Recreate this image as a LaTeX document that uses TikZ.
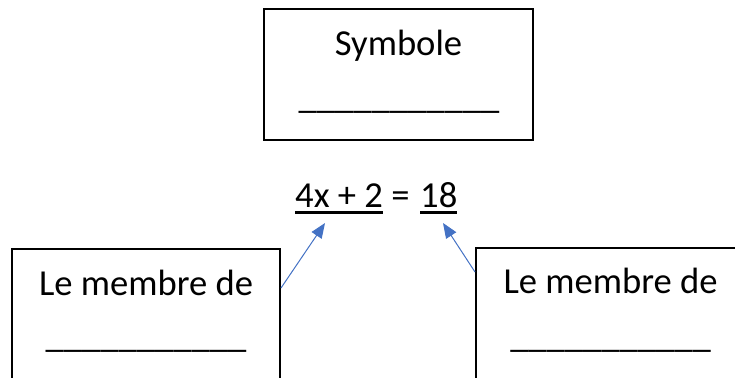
\documentclass[tikz,border=0pt]{standalone}
\usepackage{fontspec}
\setmainfont{Carlito}
\usetikzlibrary{arrows.meta,calc}
\newcommand\myul[1]{\setbox0\hbox{#1}\rlap{\rule[-7.3pt]{\wd0}{3pt}}\box0}
\begin{document}
\begin{tikzpicture}[x=1pt,y=-1pt,
  box/.style={draw=black,line width=2pt,fill=none,inner sep=0pt},
  txt/.style={inner sep=0pt,anchor=base,font=\fontsize{36.6}{44}\selectfont},
  arr/.style={draw={rgb,255:red,68;green,114;blue,196},line width=1pt,
    -{Triangle[length=15pt,width=12pt]}}]
\useasboundingbox (0,0) rectangle (735,377);
\clip (0,0) rectangle (735,377);
% top box
\node[box,minimum width=269pt,minimum height=131pt] (sym) at (398.5,74.5) {};
\node[txt] (symt) at (398.5,56) {Symbole};
\node[txt] (symu) at (399,108) {\_\_\_\_\_\_\_\_\_\_\_};
% equation
\node[txt,anchor=base west] (lhs) at (295,207) {\myul{4x + 2}};
\node[txt] (eqs) at (400.5,207) {=};
\node[txt,anchor=base west] (rhs) at (420,207) {\myul{18}};
% left box
\node[box,minimum width=268pt,minimum height=160pt] (lbox) at (146,329) {};
\node[txt] (lt) at (146,295) {Le membre de};
\node[txt] (lu) at (146,347) {\_\_\_\_\_\_\_\_\_\_\_};
% right box
\node[box,minimum width=269pt,minimum height=160pt] (rbox) at (610.5,328) {};
\node[txt] (rt) at (610.5,293) {Le membre de};
\node[txt] (ru) at (610.5,347) {\_\_\_\_\_\_\_\_\_\_\_};
% arrows
\coordinate (la) at ($(lbox.north east)+(0,40)$);
\coordinate (lt2) at (325,223);
\coordinate (ra) at ($(rbox.north west)+(0,25)$);
\coordinate (rt2) at (443,223);
\draw[arr] (la) -- (lt2);
\draw[arr] (ra) -- (rt2);
\end{tikzpicture}
\end{document}
